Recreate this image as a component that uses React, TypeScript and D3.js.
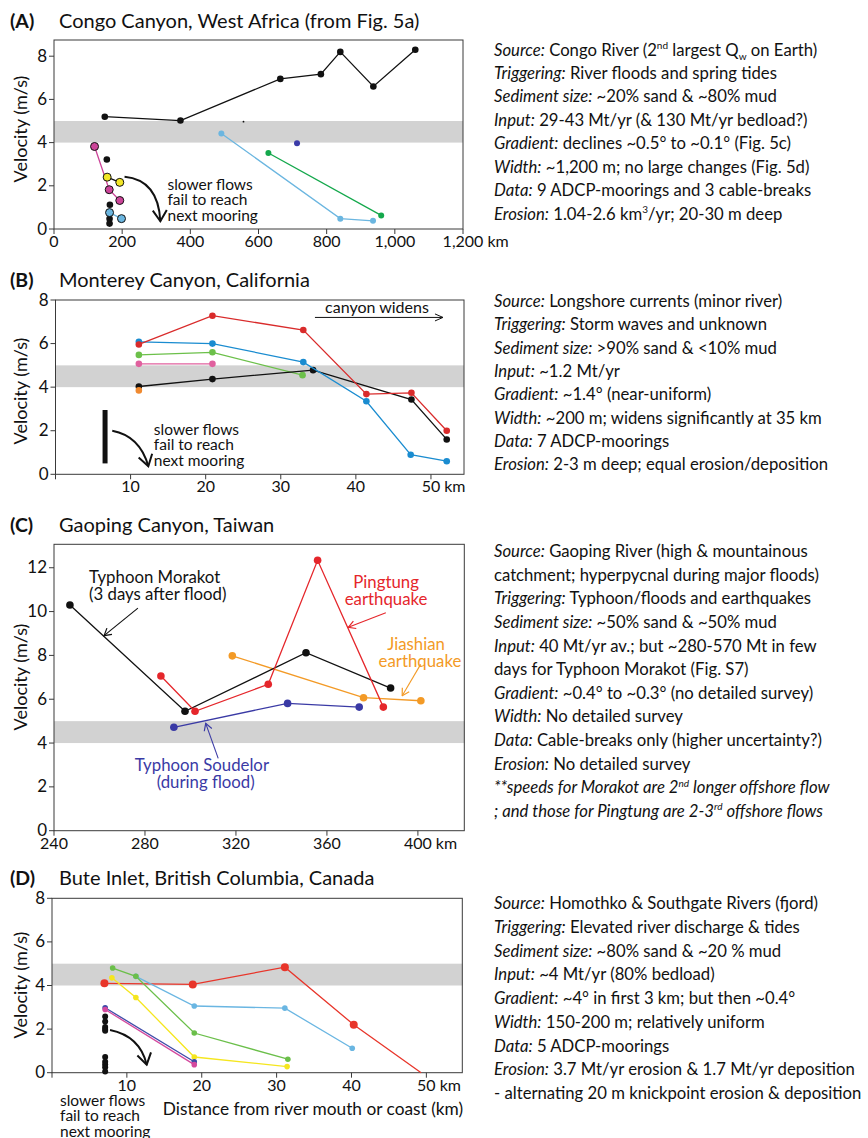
import React from "react";
import * as d3 from "d3";

type Pt = [number, number];

// ---- shared ticks
const velocityTicks8 = [0, 2, 4, 6, 8];
const velocityTicks12 = [0, 2, 4, 6, 8, 10, 12];
const fastBand: Pt = [4, 5];

// ---- (A) Congo Canyon  [km, m/s]
const congoKmTicks = [0, 200, 400, 600, 800, 1000, 1200];
const congoMain: Pt[] = [[149, 5.2], [371, 5.02], [664, 6.95], [783, 7.17], [840, 8.2], [937, 6.6], [1060, 8.3]];
const congoPink: Pt[] = [[119, 3.82], [162, 1.82], [193, 1.32]];
const congoYellow: Pt[] = [[156, 2.4], [193, 2.16]];
const congoBlackDots: Pt[] = [[155, 3.22], [164, 1.12], [163, 0.47], [163, 0.25]];
const congoCyanShort: Pt[] = [[163, 0.76], [198, 0.48]];
const congoCyanLong: Pt[] = [[491, 4.42], [840, 0.48], [936, 0.38]];
const congoGreen: Pt[] = [[629, 3.52], [960, 0.63]];
const congoNavy: Pt[] = [[713, 3.97]];

// ---- (B) Monterey Canyon
const montereyKmTicks = [0, 10, 20, 30, 40, 50];
const montereyRed: Pt[] = [[11.1, 5.96], [20.9, 7.28], [33, 6.62], [41.4, 3.68], [47.4, 3.74], [52.1, 2.0]];
const montereyBlue: Pt[] = [[11.1, 6.08], [20.9, 6.0], [33, 5.15], [41.4, 3.35], [47.3, 0.9], [52.1, 0.6]];
const montereyGreen: Pt[] = [[11.1, 5.48], [20.9, 5.6], [32.9, 4.55]];
const montereyPink: Pt[] = [[11.1, 5.07], [20.9, 5.07]];
const montereyBlack: Pt[] = [[11.1, 4.03], [20.9, 4.37], [34.3, 4.78], [47.4, 3.43], [52.1, 1.6]];
const montereyOrange: Pt[] = [[11.1, 3.85]];

// ---- (C) Gaoping Canyon
const gaopingKmTicks = [240, 280, 320, 360, 400];
const gaopingMorakot: Pt[] = [[247, 10.3], [297.6, 5.45], [350.8, 8.12], [388, 6.51]];
const gaopingPingtung: Pt[] = [[287, 7.06], [302, 5.45], [334.2, 6.68], [355.9, 12.34], [384.8, 5.64]];
const gaopingJiashian: Pt[] = [[318.4, 7.98], [376.1, 6.07], [401.3, 5.93]];
const gaopingSoudelor: Pt[] = [[292.7, 4.72], [342.7, 5.81], [374.2, 5.64]];

// ---- (D) Bute Inlet
const buteKmTicks = [0, 10, 20, 30, 40, 50];
const buteRed: Pt[] = [[7, 4.1], [18.8, 4.05], [31.1, 4.84], [40.3, 2.2], [49.3, 0]];
const buteCyan: Pt[] = [[11.2, 4.42], [19, 3.06], [31.1, 2.96], [40.1, 1.12]];
const buteGreen: Pt[] = [[8.1, 4.8], [11.2, 4.42], [19, 1.82], [31.5, 0.62]];
const buteYellow: Pt[] = [[8, 4.35], [11.2, 3.45], [19, 0.72], [31.4, 0.28]];
const buteNavy: Pt[] = [[7.1, 2.98], [19, 0.5]];
const buteMagenta: Pt[] = [[7.1, 2.9], [19, 0.37]];
const buteBlackDots: Pt[] = [[7.1, 2.58], [7.1, 2.35], [7.1, 2.1], [7.1, 2.0], [7.1, 1.92], [7.1, 0.72], [7.1, 0.5], [7.1, 0.38], [7.1, 0.25], [7.1, 0.05]];

// ---- side notes (|italic|, ^sup^, _sub_)
const congoNotes = [
  "|Source:| Congo River (2^nd^ largest Q_w_ on Earth)",
  "|Triggering:| River floods and spring tides",
  "|Sediment size:| ~20% sand & ~80% mud",
  "|Input:| 29-43 Mt/yr (& 130 Mt/yr bedload?)",
  "|Gradient:| declines ~0.5° to ~0.1° (Fig. 5c)",
  "|Width:| ~1,200 m; no large changes (Fig. 5d)",
  "|Data:| 9 ADCP-moorings and 3 cable-breaks",
  "|Erosion:| 1.04-2.6 km^3^/yr; 20-30 m deep",
];
const montereyNotes = [
  "|Source:| Longshore currents (minor river)",
  "|Triggering:| Storm waves and unknown",
  "|Sediment size:| >90% sand & <10% mud",
  "|Input:| ~1.2 Mt/yr",
  "|Gradient:| ~1.4° (near-uniform)",
  "|Width:| ~200 m; widens significantly at 35 km",
  "|Data:| 7 ADCP-moorings",
  "|Erosion:| 2-3 m deep; equal erosion/deposition",
];
const gaopingNotes = [
  "|Source:| Gaoping River (high & mountainous",
  "catchment; hyperpycnal during major floods)",
  "|Triggering:| Typhoon/floods and earthquakes",
  "|Sediment size:| ~50% sand & ~50% mud",
  "|Input:| 40 Mt/yr av.; but ~280-570 Mt in few",
  "days for Typhoon Morakot (Fig. S7)",
  "|Gradient:| ~0.4° to ~0.3° (no detailed survey)",
  "|Width:| No detailed survey",
  "|Data:| Cable-breaks only (higher uncertainty?)",
  "|Erosion:| No detailed survey",
  "|**speeds for Morakot are 2^nd^ longer offshore flow|",
  "|; and those for Pingtung are 2-3^rd^ offshore flows|",
];
const buteNotes = [
  "|Source:| Homothko & Southgate Rivers (fjord)",
  "|Triggering:| Elevated river discharge & tides",
  "|Sediment size:| ~80% sand & ~20 % mud",
  "|Input:| ~4 Mt/yr (80% bedload)",
  "|Gradient:| ~4° in first 3 km; but then ~0.4°",
  "|Width:| 150-200 m; relatively uniform",
  "|Data:| 5 ADCP-moorings",
  "|Erosion:| 3.7 Mt/yr erosion & 1.7 Mt/yr deposition",
  "- alternating 20 m knickpoint erosion & deposition",
];

const FONT = "Lato, 'Open Sans', sans-serif";
const AXIS = "#3a3a3a";
const TICK_SIZE = 16;
const NOTE_SIZE = 16.7;

const measureCtx = typeof document !== "undefined" ? document.createElement("canvas").getContext("2d") : null;
function textWidth(s: string, size: number) {
  if (!measureCtx) return s.length * size * 0.55;
  measureCtx.font = `${size}px Lato`;
  return measureCtx.measureText(s).width;
}

function RichLine({ x, y, src, size }: { x: number; y: number; src: string; size: number }) {
  const segs: { t: string; it: boolean; sup: boolean; sub: boolean }[] = [];
  let it = false, sup = false, sub = false, buf = "";
  const flush = () => {
    if (buf) segs.push({ t: buf, it, sup, sub });
    buf = "";
  };
  for (const ch of src) {
    if (ch === "|") { flush(); it = !it; }
    else if (ch === "^") { flush(); sup = !sup; }
    else if (ch === "_") { flush(); sub = !sub; }
    else buf += ch;
  }
  flush();
  let cur = 0;
  return (
    <text x={x} y={y} fontSize={size} style={{ whiteSpace: "pre" }}>
      {segs.map((s, i) => {
        const off = s.sup ? -size * 0.4 : s.sub ? size * 0.25 : 0;
        const dy = off - cur;
        cur = off;
        return (
          <tspan key={i} dy={dy} fontStyle={s.it ? "italic" : "normal"} fontSize={s.sup || s.sub ? size * 0.6 : size}>
            {s.t}
          </tspan>
        );
      })}
    </text>
  );
}

type Series = { pts: Pt[]; line?: string; fill: string; r: number; outline?: boolean; noLastDot?: boolean; lw?: number };

type PanelCfg = {
  tag: string;
  title: string;
  titleY: number;
  frame: { l: number; r: number; t: number; b: number };
  xDomain: [number, number];
  yMax: number;
  xTicks: number[];
  xFmt: (v: number) => string;
  yTicks: number[];
  yLabelY: number;
  series: Series[];
  notes: string[];
  notesY: number;
  notesStep: number;
  extras: (x: d3.ScaleLinear<number, number>, y: d3.ScaleLinear<number, number>) => React.ReactNode;
};

function SlowerFlows({ x, y, size = 15.5 }: { x: number; y: number; size?: number }) {
  return (
    <text x={x} y={y} fontSize={size}>
      <tspan x={x}>slower flows</tspan>
      <tspan x={x} dy={15.5}>fail to reach</tspan>
      <tspan x={x} dy={15.5}>next mooring</tspan>
    </text>
  );
}

const panels: PanelCfg[] = [
  {
    tag: "(A)",
    title: "Congo Canyon, West Africa (from Fig. 5a)",
    titleY: 28,
    frame: { l: 54, r: 463, t: 40, b: 229 },
    xDomain: [0, 1200],
    yMax: 8.75,
    xTicks: congoKmTicks,
    xFmt: d3.format(","),
    yTicks: velocityTicks8,
    yLabelY: 129,
    series: [
      { pts: congoMain, line: "#111", fill: "#111", r: 3.3 },
      { pts: congoPink, line: "#cc4499", fill: "#cc4499", r: 4, outline: true },
      { pts: congoYellow, line: "#111", fill: "#f2e627", r: 4, outline: true },
      { pts: congoBlackDots, fill: "#111", r: 3.3 },
      { pts: congoCyanShort, line: "#6bb6e0", fill: "#6bb6e0", r: 4, outline: true },
      { pts: congoCyanLong, line: "#6bb6e0", fill: "#6bb6e0", r: 3 },
      { pts: congoGreen, line: "#14a84c", fill: "#14a84c", r: 3 },
      { pts: congoNavy, fill: "#3b3ba8", r: 3 },
    ],
    notes: congoNotes,
    notesY: 55.5,
    notesStep: 23.45,
    extras: (x, y) => (
      <g>
        <circle cx={x(556)} cy={y(4.97)} r={0.9} fill="#111" />
        <path
          d={`M${x(207)},${y(2.42)} Q${x(306)},${y(2.27)} ${x(312)},${y(0.36)}`}
          fill="none" stroke="#111" strokeWidth={2} markerEnd="url(#bigHead)"
        />
        <SlowerFlows x={x(333)} y={y(1.81)} />
      </g>
    ),
  },
  {
    tag: "(B)",
    title: "Monterey Canyon, California",
    titleY: 287,
    frame: { l: 55.5, r: 464, t: 300, b: 474.3 },
    xDomain: [0, 54.4],
    yMax: 8,
    xTicks: montereyKmTicks,
    xFmt: (v) => (v === 0 ? "" : String(v)),
    yTicks: velocityTicks8,
    yLabelY: 391,
    series: [
      { pts: montereyPink, line: "#e0609e", fill: "#e0609e", r: 3.3 },
      { pts: montereyGreen, line: "#6cc04a", fill: "#6cc04a", r: 3.3 },
      { pts: montereyBlack, line: "#111", fill: "#111", r: 3.3 },
      { pts: montereyBlue, line: "#1a8cd0", fill: "#1a8cd0", r: 3.3 },
      { pts: montereyRed, line: "#d92b2b", fill: "#d92b2b", r: 3.3 },
      { pts: montereyOrange, fill: "#f08a30", r: 3.3 },
    ],
    notes: montereyNotes,
    notesY: 307,
    notesStep: 23.3,
    extras: (x, y) => (
      <g>
        <text x={x(35.9)} y={y(7.42)} fontSize={16}>canyon widens</text>
        <line x1={x(34.55)} x2={x(51.6)} y1={y(7.2)} y2={y(7.2)} stroke="#111" strokeWidth={1} markerEnd="url(#thinHead)" />
        <line x1={x(6.6)} x2={x(6.6)} y1={y(0.5)} y2={y(2.95)} stroke="#111" strokeWidth={5} />
        <path
          d={`M${x(7.56)},${y(2.0)} Q${x(11.25)},${y(1.76)} ${x(12.36)},${y(0.37)}`}
          fill="none" stroke="#111" strokeWidth={2} markerEnd="url(#bigHead)"
        />
        <SlowerFlows x={x(13.1)} y={y(1.81)} />
      </g>
    ),
  },
  {
    tag: "(C)",
    title: "Gaoping Canyon, Taiwan",
    titleY: 532,
    frame: { l: 54, r: 464.3, t: 544.3, b: 830.7 },
    xDomain: [240, 420.4],
    yMax: 13.07,
    xTicks: gaopingKmTicks,
    xFmt: (v) => String(v),
    yTicks: velocityTicks12,
    yLabelY: 677,
    series: [
      { pts: gaopingSoudelor, line: "#3a3aa5", fill: "#3a3aa5", r: 3.8 },
      { pts: gaopingJiashian, line: "#f39a26", fill: "#f39a26", r: 3.8 },
      { pts: gaopingMorakot, line: "#111", fill: "#111", r: 3.8 },
      { pts: gaopingPingtung, line: "#e5262b", fill: "#e5262b", r: 3.8 },
    ],
    notes: gaopingNotes,
    notesY: 557,
    notesStep: 23.64,
    extras: (x, y) => (
      <g fontSize={16.8}>
        <text x={x(255.4)} y={y(11.3)} fill="#111">
          <tspan x={x(255.4)}>Typhoon Morakot</tspan>
          <tspan x={x(255.4)} dy={17}>(3 days after flood)</tspan>
        </text>
        <line x1={x(276.9)} y1={y(10.16)} x2={x(262)} y2={y(8.9)} stroke="#111" strokeWidth={1.1} markerEnd="url(#head-111)" />
        <text x={x(386)} y={y(11.06)} fill="#e5262b" textAnchor="middle">
          <tspan x={x(386)}>Pingtung</tspan>
          <tspan x={x(386)} dy={17}>earthquake</tspan>
        </text>
        <line x1={x(385.9)} y1={y(9.95)} x2={x(369.4)} y2={y(9.28)} stroke="#e5262b" strokeWidth={1.1} markerEnd="url(#head-e5262b)" />
        <text x={x(400)} y={y(8.24)} fill="#f39a26" textAnchor="middle">
          <tspan x={x(399.2)}>Jiashian</tspan>
          <tspan x={x(400.9)} dy={17}>earthquake</tspan>
        </text>
        <line x1={x(401.2)} y1={y(7.59)} x2={x(393.1)} y2={y(6.16)} stroke="#f39a26" strokeWidth={1.1} markerEnd="url(#head-f39a26)" />
        <text x={x(305.5)} y={y(2.73)} fill="#3a3aa5" textAnchor="middle">
          <tspan x={x(305)}>Typhoon Soudelor</tspan>
          <tspan x={x(306.7)} dy={17}>(during flood)</tspan>
        </text>
        <line x1={x(312.2)} y1={y(3.3)} x2={x(306.7)} y2={y(4.9)} stroke="#3a3aa5" strokeWidth={1.1} markerEnd="url(#head-3a3aa5)" />
      </g>
    ),
  },
  {
    tag: "(D)",
    title: "Bute Inlet, British Columbia, Canada",
    titleY: 885,
    frame: { l: 52, r: 462.3, t: 898.3, b: 1072.7 },
    xDomain: [0, 54.8],
    yMax: 8,
    xTicks: buteKmTicks,
    xFmt: (v) => (v === 0 ? "" : String(v)),
    yTicks: velocityTicks8,
    yLabelY: 985,
    series: [
      { pts: buteRed, line: "#e8352a", fill: "#e8352a", r: 4, noLastDot: true },
      { pts: buteCyan, line: "#6ab6e2", fill: "#6ab6e2", r: 2.8 },
      { pts: buteGreen, line: "#6bbf4a", fill: "#6bbf4a", r: 2.8 },
      { pts: buteYellow, line: "#f5e61e", fill: "#f5e61e", r: 2.8 },
      { pts: buteNavy, line: "#3d4aa8", fill: "#3d4aa8", r: 2.8 },
      { pts: buteMagenta, line: "#d4499e", fill: "#d4499e", r: 2.8 },
      { pts: buteBlackDots, fill: "#111", r: 3 },
    ],
    notes: buteNotes,
    notesY: 909,
    notesStep: 23.75,
    extras: (x, y) => (
      <g>
        <path
          d={`M${x(7.75)},${y(1.96)} Q${x(11.75)},${y(1.68)} ${x(12.65)},${y(0.37)}`}
          fill="none" stroke="#111" strokeWidth={2} markerEnd="url(#bigHead)"
        />
        <SlowerFlows x={x(1.07)} y={y(-1.52)} />
        <text x={x(34.85)} y={y(-1.94)} fontSize={17.3} textAnchor="middle">
          Distance from river mouth or coast (km)
        </text>
      </g>
    ),
  },
];

function Panel({ p }: { p: PanelCfg }) {
  const { l, r, t, b } = p.frame;
  const x = d3.scaleLinear().domain(p.xDomain).range([l, r]);
  const y = d3.scaleLinear().domain([0, p.yMax]).range([b, t]);
  const line = d3.line<Pt>().x((d) => x(d[0])).y((d) => y(d[1]));
  const lastTick = p.xTicks[p.xTicks.length - 1];
  return (
    <g>
      <text x={10} y={p.titleY} fontSize={19.5} fontWeight="bold">{p.tag}</text>
      <text x={59} y={p.titleY} fontSize={20}>{p.title}</text>

      <rect x={l} width={r - l} y={y(fastBand[1])} height={y(fastBand[0]) - y(fastBand[1])} fill="#d2d2d2" />
      <rect x={l} y={t} width={r - l} height={b - t} fill="none" stroke={AXIS} strokeWidth={1} />

      {p.yTicks.map((v) => (
        <g key={"y" + v}>
          <line x1={l - 5} x2={l} y1={y(v)} y2={y(v)} stroke={AXIS} />
          <text x={l - 7} y={y(v) + 5.5} fontSize={TICK_SIZE + 1} textAnchor="end">{v}</text>
        </g>
      ))}
      {p.xTicks.map((v) => {
        const lab = p.xFmt(v);
        return (
          <g key={"x" + v}>
            <line x1={x(v)} x2={x(v)} y1={b} y2={b + 5} stroke={AXIS} />
            <text x={x(v)} y={b + 18} fontSize={TICK_SIZE} textAnchor="middle">{lab}</text>
            {v === lastTick && (
              <text x={x(v) + textWidth(lab, TICK_SIZE) / 2 + 4} y={b + 18} fontSize={TICK_SIZE}>km</text>
            )}
          </g>
        );
      })}
      <text transform={`translate(21,${p.yLabelY}) rotate(-90)`} textAnchor="middle" fontSize={18} dy={6}>
        Velocity (m/s)
      </text>

      {p.series.map((s, i) => (
        <g key={"s" + i}>
          {s.line && s.pts.length > 1 && (
            <path d={line(s.pts) || ""} fill="none" stroke={s.line} strokeWidth={s.lw ?? 1.3} />
          )}
          {s.pts.map((d, j) =>
            s.noLastDot && j === s.pts.length - 1 ? null : (
              <circle key={j} cx={x(d[0])} cy={y(d[1])} r={s.r} fill={s.fill} stroke={s.outline ? "#111" : "none"} strokeWidth={1} />
            )
          )}
        </g>
      ))}

      {p.extras(x, y)}

      {p.notes.map((n, i) => (
        <RichLine key={i} x={494} y={p.notesY + i * p.notesStep} src={n} size={NOTE_SIZE} />
      ))}
    </g>
  );
}

const headColors = ["111", "e5262b", "f39a26", "3a3aa5"];

export default function App() {
  return (
    <svg
      width={868}
      height={1138}
      style={{ position: "absolute", left: 0, top: 0, background: "#fff" }}
      fontFamily={FONT}
      fill="#111"
    >
      <defs>
        <marker id="bigHead" viewBox="-12 -9 14 18" refX={0} refY={0} markerWidth={14} markerHeight={18} markerUnits="userSpaceOnUse" orient="auto">
          <path d="M-11,-7 L0,0 L-11,7" fill="none" stroke="#111" strokeWidth={2} />
        </marker>
        <marker id="thinHead" viewBox="-9 -5 10 10" refX={0} refY={0} markerWidth={10} markerHeight={10} markerUnits="userSpaceOnUse" orient="auto">
          <path d="M-8,-3.5 L0,0 L-8,3.5" fill="none" stroke="#111" strokeWidth={1} />
        </marker>
        {headColors.map((c) => (
          <marker key={c} id={"head-" + c} viewBox="-9 -5 10 10" refX={0} refY={0} markerWidth={10} markerHeight={10} markerUnits="userSpaceOnUse" orient="auto">
            <path d="M-7,-4 L0,0 L-7,4" fill="none" stroke={"#" + c} strokeWidth={1.2} />
          </marker>
        ))}
      </defs>
      {panels.map((p) => (
        <Panel key={p.tag} p={p} />
      ))}
    </svg>
  );
}
